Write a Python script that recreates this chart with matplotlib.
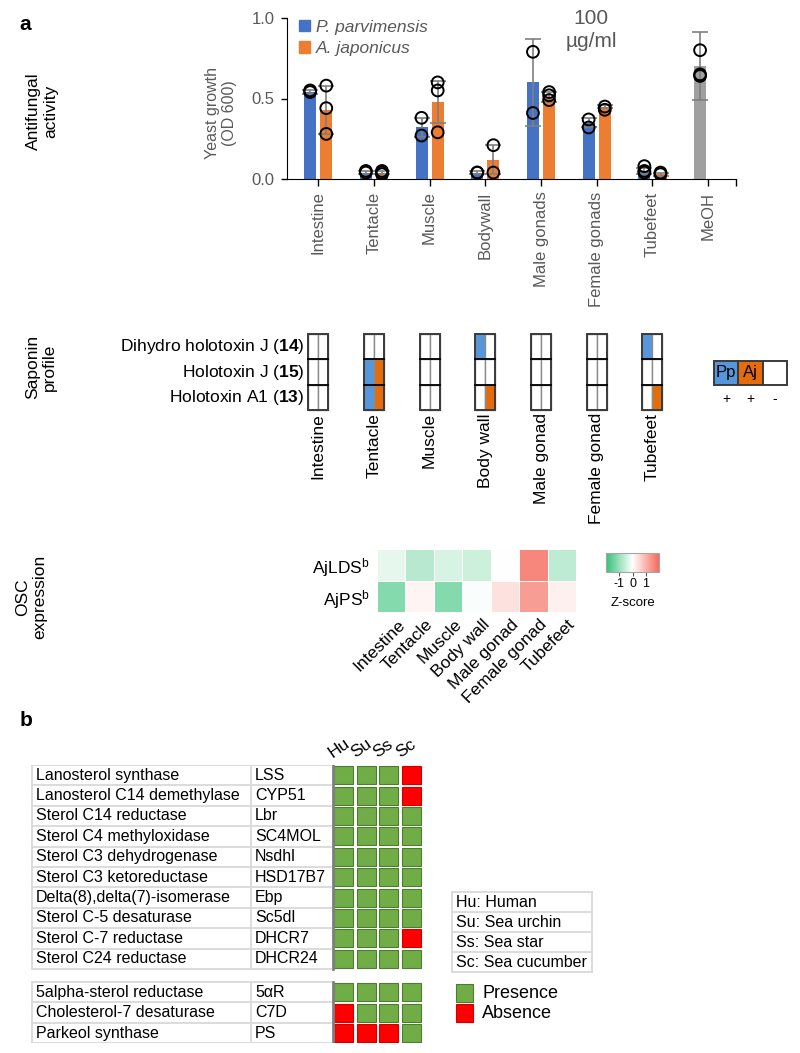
import numpy as np
import matplotlib
matplotlib.use("Agg")
import matplotlib.pyplot as plt
from matplotlib.patches import Rectangle, Patch
from matplotlib.colors import LinearSegmentedColormap

plt.rcParams["font.family"] = "Liberation Sans"
plt.rcParams["mathtext.fontset"] = "custom"
plt.rcParams["mathtext.rm"] = "Liberation Sans"
plt.rcParams["mathtext.bf"] = "Liberation Sans:bold"
plt.rcParams["mathtext.it"] = "Liberation Sans:italic"
plt.rcParams["axes.unicode_minus"] = False

# ---- data: antifungal activity (yeast growth, OD 600) ----
bar_tissues = ["Intestine", "Tentacle", "Muscle", "Bodywall", "Male gonads", "Female gonads", "Tubefeet"]
pp_mean = [0.54, 0.04, 0.32, 0.04, 0.60, 0.35, 0.05]
pp_err = [0.01, 0.01, 0.06, 0.01, 0.27, 0.03, 0.02]
aj_mean = [0.43, 0.04, 0.48, 0.12, 0.51, 0.45, 0.03]
aj_err = [0.15, 0.01, 0.13, 0.09, 0.03, 0.01, 0.01]
pp_pts = [[0.55, 0.54], [0.05, 0.04], [0.38, 0.27], [0.04, 0.04], [0.79, 0.41], [0.37, 0.32], [0.08, 0.05, 0.04]]
aj_pts = [[0.58, 0.44, 0.28], [0.05, 0.04, 0.03], [0.60, 0.55, 0.29], [0.21, 0.04], [0.54, 0.52, 0.49], [0.45, 0.43], [0.03, 0.04]]
meoh_mean = 0.70
meoh_err = 0.21
meoh_pts = [0.80, 0.65, 0.64]

# ---- data: saponin profile ----
sap_compounds = ["Dihydro holotoxin J ($\\mathbf{14}$)", "Holotoxin J ($\\mathbf{15}$)", "Holotoxin A1 ($\\mathbf{13}$)"]
sap_tissues = ["Intestine", "Tentacle", "Muscle", "Body wall", "Male gonad", "Female gonad", "Tubefeet"]
sap_pp = [[0, 0, 0, 1, 0, 0, 1],
          [0, 1, 0, 0, 0, 0, 0],
          [0, 1, 0, 0, 0, 0, 0]]
sap_aj = [[0, 0, 0, 0, 0, 0, 0],
          [0, 1, 0, 0, 0, 0, 0],
          [0, 1, 0, 1, 0, 0, 1]]

# ---- data: OSC expression (Z-score) ----
osc_genes = ["AjLDS$^{\\mathrm{b}}$", "AjPS$^{\\mathrm{b}}$"]
osc_tissues = ["Intestine", "Tentacle", "Muscle", "Body wall", "Male gonad", "Female gonad", "Tubefeet"]
osc_ajlds = [-0.25, -0.7, -0.4, -0.5, 0.0, 1.6, -0.65]
osc_ajps = [-1.2, 0.15, -1.2, -0.05, 0.4, 1.3, 0.2]

# ---- data: sterol pathway genes ----
genes_main = ["Lanosterol synthase", "Lanosterol C14 demethylase", "Sterol C14 reductase",
              "Sterol C4 methyloxidase", "Sterol C3 dehydrogenase", "Sterol C3 ketoreductase",
              "Delta(8),delta(7)-isomerase", "Sterol C-5 desaturase", "Sterol C-7 reductase",
              "Sterol C24 reductase"]
abbr_main = ["LSS", "CYP51", "Lbr", "SC4MOL", "Nsdhl", "HSD17B7", "Ebp", "Sc5dl", "DHCR7", "DHCR24"]
genes_extra = ["5alpha-sterol reductase", "Cholesterol-7 desaturase", "Parkeol synthase"]
abbr_extra = ["5αR", "C7D", "PS"]
species = ["Hu", "Su", "Ss", "Sc"]
species_names = ["Hu: Human", "Su: Sea urchin", "Ss: Sea star", "Sc: Sea cucumber"]
pres_hu = [1, 1, 1, 1, 1, 1, 1, 1, 1, 1, 1, 0, 0]
pres_su = [1, 1, 1, 1, 1, 1, 1, 1, 1, 1, 1, 1, 0]
pres_ss = [1, 1, 1, 1, 1, 1, 1, 1, 1, 1, 1, 1, 0]
pres_sc = [0, 0, 1, 1, 1, 1, 1, 1, 0, 1, 1, 1, 1]

BLUE = "#4472C4"
ORANGE = "#ED7D31"
SAP_BLUE = "#5596DC"
SAP_ORANGE = "#E46C0A"
GREY_T = "#595959"
GREEN = "#70AD47"
RED = "#FF0000"

W, H = 800, 1053
fig = plt.figure(figsize=(W / 100, H / 100), dpi=100)


def px_axes(x0, y0, x1, y1):
    return fig.add_axes([x0 / W, 1 - y1 / H, (x1 - x0) / W, (y1 - y0) / H])


# ================= a: bar chart =================
ax = px_axes(287, 18, 736, 179)
x = np.arange(len(bar_tissues))
off, bw = 0.145, 0.215
ekw = dict(ecolor="#7F7F7F", elinewidth=1.2, capthick=1.2, capsize=6)
ax.bar(x - off, pp_mean, bw, color=BLUE, yerr=pp_err, error_kw=ekw, zorder=2)
ax.bar(x + off, aj_mean, bw, color=ORANGE, yerr=aj_err, error_kw=ekw, zorder=2)
ax.bar(len(bar_tissues) - off, meoh_mean, bw, color="#A0A0A0", yerr=meoh_err, error_kw=ekw, zorder=2)
mk = dict(s=72, facecolors="none", edgecolors="black", linewidths=1.4, zorder=5)
for i, pts in enumerate(pp_pts):
    ax.scatter([i - off] * len(pts), pts, **mk)
for i, pts in enumerate(aj_pts):
    ax.scatter([i + off] * len(pts), pts, **mk)
ax.scatter([len(bar_tissues) - off] * len(meoh_pts), meoh_pts, **mk)

ax.set_xlim(-0.56, 7.5)
ax.set_ylim(0, 1)
ax.set_xticks(range(len(bar_tissues) + 1))
ax.set_xticklabels(bar_tissues + ["MeOH"], rotation=90)
ax.set_xticks([7.5], minor=True)
ax.set_yticks([0, 0.5, 1.0])
ax.set_yticklabels(["0.0", "0.5", "1.0"])
ax.tick_params(axis="x", which="both", length=5, width=1, labelsize=12, labelcolor=GREY_T, pad=4)
ax.tick_params(axis="y", length=4, width=1, labelsize=12, labelcolor=GREY_T, pad=5)
for s in ["top", "right"]:
    ax.spines[s].set_visible(False)
ax.legend(handles=[Patch(color=BLUE), Patch(color=ORANGE)], labels=["P. parvimensis", "A. japonicus"],
          loc="upper left", bbox_to_anchor=(0.027, 0.99), frameon=False,
          prop={"style": "italic", "size": 12.5}, labelcolor=GREY_T, handlelength=0.65,
          handleheight=0.65, handletextpad=0.3, labelspacing=0.38, borderpad=0, borderaxespad=0)

fig.text(221 / W, 1 - 113 / H, "Yeast growth\n(OD 600)", rotation=90, ha="center", va="center",
         size=11.5, color=GREY_T)
fig.text(591 / W, 1 - 30 / H, "100\nµg/ml", ha="center", va="center", size=15, color=GREY_T,
         linespacing=1.25)

fig.text(25 / W, 1 - 24 / H, "a", ha="center", va="center", size=15, weight="bold")
fig.text(26 / W, 1 - 721 / H, "b", ha="center", va="center", size=15, weight="bold")
fig.text(42 / W, 1 - 111 / H, "Antifungal\nactivity", rotation=90, ha="center", va="center", size=12.5)
fig.text(41 / W, 1 - 367 / H, "Saponin\nprofile", rotation=90, ha="center", va="center", size=12.5)
fig.text(31 / W, 1 - 597 / H, "OSC\nexpression", rotation=90, ha="center", va="center", size=12.5)

# ================= a: saponin profile =================
ax_s = px_axes(287, 334, 736, 410)
ax_s.set_xlim(-0.56, 7.5)
ax_s.set_ylim(3, 0)
ax_s.axis("off")
hw = 0.18
for r in range(len(sap_compounds)):
    for i in range(len(sap_tissues)):
        ax_s.add_patch(Rectangle((i - hw, r), hw, 1, facecolor=SAP_BLUE if sap_pp[r][i] else "white",
                                 edgecolor="#8C8C8C", lw=1.0, clip_on=False))
        ax_s.add_patch(Rectangle((i, r), hw, 1, facecolor=SAP_ORANGE if sap_aj[r][i] else "white",
                                 edgecolor="#8C8C8C", lw=1.0, clip_on=False))
for i in range(len(sap_tissues)):
    for r in range(1, len(sap_compounds)):
        ax_s.plot([i - hw, i + hw], [r, r], color="black", lw=1.3, clip_on=False)
    ax_s.add_patch(Rectangle((i - hw, 0), 2 * hw, 3, facecolor="none", edgecolor="#3A3A3A", lw=1.4,
                             clip_on=False))
    ax_s.text(i, 3.12, sap_tissues[i], rotation=90, ha="center", va="top", size=12.5)
for r, name in enumerate(sap_compounds):
    ax_s.text(-0.25, r + 0.5, name, ha="right", va="center", size=12.5)

ax_l = px_axes(714, 361, 787, 385)
ax_l.set_xlim(0, 3)
ax_l.set_ylim(1, 0)
ax_l.axis("off")
for k, (c, t, sign) in enumerate([(SAP_BLUE, "Pp", "+"), (SAP_ORANGE, "Aj", "+"), ("white", "", "-")]):
    ax_l.add_patch(Rectangle((k, 0), 1, 1, facecolor=c, edgecolor="#3A3A3A", lw=1.4, clip_on=False))
    ax_l.text(k + 0.5, 0.5, t, ha="center", va="center", size=12)
    ax_l.text(k + 0.5, 1.6, sign, ha="center", va="center", size=10)

# ================= a: OSC heatmap =================
cmap = LinearSegmentedColormap.from_list("gwr", ["#33C177", "#FFFFFF", "#F5695C"])
ax_h = px_axes(377, 549, 576, 612)
im = ax_h.pcolormesh(np.array([osc_ajlds, osc_ajps]), cmap=cmap, vmin=-2, vmax=2,
                     edgecolors="white", linewidth=0.5)
ax_h.set_xlim(0, len(osc_tissues))
ax_h.set_ylim(2, 0)
for s in ax_h.spines.values():
    s.set_visible(False)
ax_h.set_xticks([])
ax_h.set_yticks([0.5, 1.5])
ax_h.set_yticklabels(osc_genes)
ax_h.tick_params(axis="y", length=0, pad=5, labelsize=12.5)
for i, t in enumerate(osc_tissues):
    ax_h.text(i + 0.7, 2.15, t, rotation=45, rotation_mode="anchor", ha="right", va="top", size=12.5)

cax = px_axes(606, 553, 659, 572)
cb = fig.colorbar(im, cax=cax, orientation="horizontal", ticks=[-1, 0, 1])
cb.outline.set_edgecolor("#A6A6A6")
cax.tick_params(length=3, width=0.8, color="#595959", labelsize=9, pad=1.5)
fig.text(633 / W, 1 - 603 / H, "Z-score", ha="center", va="center", size=9.5)

# ================= b: sterol genes =================
ax_t = px_axes(0, 765, 800, 1043)
ax_t.set_xlim(0, W)
ax_t.set_ylim(13.63, 0)
ax_t.axis("off")
genes = genes_main + genes_extra
abbrs = abbr_main + abbr_extra
ypos = list(range(len(genes_main))) + [len(genes_main) + 0.64 + j for j in range(len(genes_extra))]
line_c = "#D9D9D9"
for y0, n in [(0, len(genes_main)), (len(genes_main) + 0.64, len(genes_extra))]:
    for j in range(n + 1):
        ax_t.plot([32, 331], [y0 + j, y0 + j], color=line_c, lw=1.3)
    for xv in [32, 251]:
        ax_t.plot([xv, xv], [y0, y0 + n], color=line_c, lw=1.3)
    ax_t.plot([332.5, 332.5], [y0, y0 + n], color="#7F7F7F", lw=2)

pres = [pres_hu, pres_su, pres_ss, pres_sc]
for r, (g, a, y) in enumerate(zip(genes, abbrs, ypos)):
    ax_t.text(36, y + 0.5, g, ha="left", va="center", size=11.5)
    ax_t.text(255, y + 0.5, a, ha="left", va="center", size=11.5)
    for k in range(len(species)):
        ok = pres[k][r]
        ax_t.add_patch(Rectangle((334 + k * 22.6, y + 0.06), 19, 0.88, facecolor=GREEN if ok else RED,
                                 edgecolor="#4E7A31" if ok else "#D00000", lw=0.8))
for k, sp in enumerate(species):
    ax_t.text(334 + k * 22.6, -0.2, sp, rotation=35, rotation_mode="anchor", ha="left", va="bottom",
              size=12.5, clip_on=False)

ly0, lh = 6.23, 0.98
for j in range(len(species_names) + 1):
    ax_t.plot([452, 592], [ly0 + j * lh, ly0 + j * lh], color=line_c, lw=1.3)
for xv in [452, 592]:
    ax_t.plot([xv, xv], [ly0, ly0 + len(species_names) * lh], color=line_c, lw=1.3)
for j, nm in enumerate(species_names):
    ax_t.text(456, ly0 + (j + 0.5) * lh, nm, ha="left", va="center", size=11.5)

for j, (c, ec, lab) in enumerate([(GREEN, "#4E7A31", "Presence"), (RED, "#D00000", "Absence")]):
    ax_t.add_patch(Rectangle((456, 10.74 + j * 0.98), 17, 0.88, facecolor=c, edgecolor=ec, lw=0.8))
    ax_t.text(482, 11.18 + j * 0.98, lab, ha="left", va="center", size=13)

fig.savefig("out.png", dpi=100)
